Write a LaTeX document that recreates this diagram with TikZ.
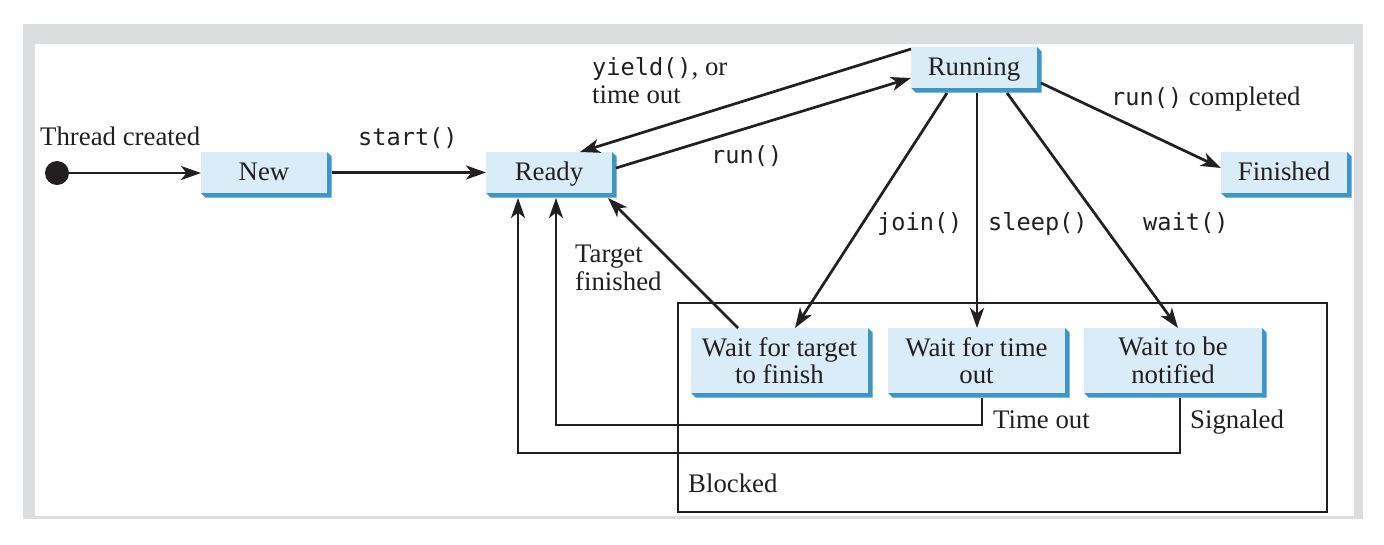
\documentclass[tikz,border=0pt]{standalone}
\usepackage{fontspec}
\setmainfont{Liberation Serif}
\setmonofont{DejaVu Sans Mono}
\usetikzlibrary{arrows.meta}
\definecolor{boxface}{HTML}{D9ECF8}
\definecolor{boxedge}{HTML}{3D95C9}
\definecolor{framegray}{HTML}{DCDDDF}
\definecolor{ink}{HTML}{231F20}
\newcommand\codetxt[1]{{\fontsize{23.6}{27.5}\ttfamily #1}}
\begin{document}
\begin{tikzpicture}[x=1pt,y=-1pt,
  txt/.style={text=ink, font=\fontsize{26.8}{27.5}\selectfont},
  state/.style={txt, fill=boxface, inner sep=0pt, outer sep=0pt,
    minimum width=126pt, minimum height=41pt, text height=18pt, text depth=3pt},
  wstate/.style={txt, fill=boxface, inner sep=0pt, outer sep=0pt,
    minimum width=177pt, minimum height=65pt, align=center},
  lbl/.style={txt, inner sep=0pt, align=left},
  flow/.style={draw=ink, line width=2.7pt,
    -{Stealth[length=20pt,width=14pt,inset=5.5pt]}},
]
% canvas and grey frame
\useasboundingbox (0,0) rectangle (1384,544);
\fill[white] (0,0) rectangle (1384,544);
\fill[framegray] (23,24) rectangle (1363,519);
\fill[white] (35,44) rectangle (1354,516);

% the blocked region
\node[draw=ink, line width=1.5pt, minimum width=649pt, minimum height=209pt,
      inner sep=0pt] (blocked) at (1002.5,407.5) {};
\node[lbl, anchor=base west] (blockedlbl) at (688,492) {Blocked};

% states
\node[circle, fill=ink, minimum size=24pt, inner sep=0pt] (start) at (57,173) {};
\node[state] (new) at (264,172.5) {New};
\node[state] (ready) at (549,172.5) {Ready};
\node[state] (running) at (974,67.5) {Running};
\node[state] (finished) at (1284,172.5) {Finished};
\node[wstate] (waittarget) at (779.5,360.5) {Wait for target\\to finish};
\node[wstate] (waittime) at (976.5,360.5) {Wait for time\\out};
\node[wstate, minimum width=178pt] (waitnotify) at (1173,360.5) {Wait to be\\notified};

% bevelled edge on the right and bottom of each state box
\foreach \n in {new,ready,running,finished,waittarget,waittime,waitnotify}
  \fill[boxedge] (\n.north east) -- ([shift={(4.5pt,-4.5pt)}]\n.north east)
    -- ([shift={(4.5pt,-4.5pt)}]\n.south east)
    -- ([shift={(4.5pt,-4.5pt)}]\n.south west)
    -- (\n.south west) -- (\n.south east) -- cycle;

% transitions
\draw[flow] (start.east) -- (start.east -| new.west);
\draw[flow] ([xshift=4.5pt]new.east) -- (ready.west);
\draw[flow] ([yshift=-2pt]running.north west) -- ([xshift=31pt]ready.north);
\draw[flow] ([shift={(4pt,4.5pt)}]ready.east) -- ([yshift=-10.5pt]running.west);
\draw[flow] ([shift={(4pt,-15.5pt)}]running.east) -- ([yshift=4.5pt]finished.west);
\draw[flow] ([shift={(-27pt,-5pt)}]running.south) -- ([xshift=15.5pt]waittarget.north);
\coordinate (sleepsrc) at ([shift={(3pt,-5pt)}]running.south);
\draw[flow] (sleepsrc) -- (sleepsrc |- waittime.north);
\draw[flow] ([shift={(33pt,-5pt)}]running.south) -- ([xshift=5pt]waitnotify.north);
\draw[flow] ([xshift=-41.5pt]waittarget.north) -- ([shift={(-4pt,-5pt)}]ready.south east);

\coordinate (tosrc) at ([shift={(5.5pt,-4.5pt)}]waittime.south);
\coordinate (todst) at ([shift={(7pt,-5pt)}]ready.south);
\draw[flow] (tosrc) |- (todst |- 0,425) -- (todst);
\coordinate (sgsrc) at ([shift={(7pt,-4.5pt)}]waitnotify.south);
\coordinate (sgdst) at ([shift={(-31pt,-5pt)}]ready.south);
\draw[flow] (sgsrc) |- (sgdst |- 0,453) -- (sgdst);

% transition labels
\node[lbl, anchor=base west] (lcreated) at (40,145.5) {Thread created};
\node[lbl, anchor=base west] (lstart) at (358,145) {\codetxt{start()}};
\node[lbl, anchor=base west] (lyield) at (592,103) {\codetxt{yield()}, or\\time out};
\node[lbl, anchor=base west] (lrun) at (711,163) {\codetxt{run()}};
\node[lbl, anchor=base west] (ldone) at (1111,105) {\codetxt{run()} completed};
\node[lbl, anchor=base west] (ljoin) at (877,230) {\codetxt{join()}};
\node[lbl, anchor=base west] (lsleep) at (988,230) {\codetxt{sleep()}};
\node[lbl, anchor=base west] (lwait) at (1143,230) {\codetxt{wait()}};
\node[lbl, anchor=base west] (ltarget) at (575,290) {Target\\finished};
\node[lbl, anchor=base west] (ltimeout) at (993,428) {Time out};
\node[lbl, anchor=base west] (lsignal) at (1190,428) {Signaled};
\end{tikzpicture}
\end{document}
